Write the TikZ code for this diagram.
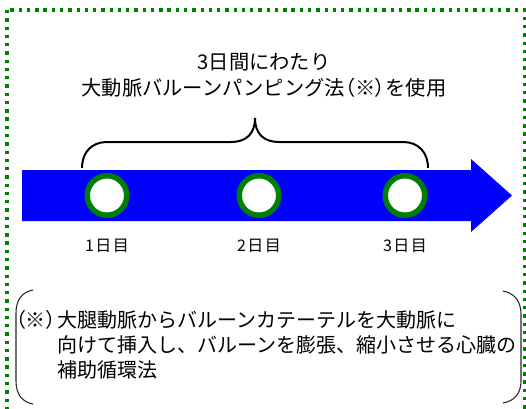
\documentclass[tikz,border=0pt]{standalone}
\usepackage{fontspec}
\setmainfont{Noto Sans CJK JP}
\newfontfamily\jpp[RawFeature=+palt]{Noto Sans CJK JP}
\usetikzlibrary{positioning}
\definecolor{dotgreen}{RGB}{0,128,0}
\definecolor{ringgreen}{RGB}{0,128,0}
\begin{document}
\begin{tikzpicture}[x=0.75pt, y=-0.75pt,
	dotframe/.style={draw=dotgreen, line width=2.5pt, dash pattern=on 2.5pt off 3.7pt},
	daymark/.style={circle, draw=ringgreen, line width=4.1pt, fill=white, minimum size=29.6pt, inner sep=0pt},
	daylabel/.style={font=\fontsize{12}{14}\selectfont, inner sep=0pt},
	heading/.style={align=center, font=\fontsize{15.2}{19.5}\selectfont, inner sep=0pt},
	notetext/.style={align=left, font=\fontsize{15}{18.75}\selectfont, inner sep=0pt},
	bracepath/.style={line width=1.5pt},
	bracket/.style={line width=0.8pt, draw=black!85}]
	\useasboundingbox (0,0) rectangle (526,408);
	\clip (0,0) rectangle (526,408);
	\draw[dotframe] (7,10) rectangle (524.5,430);
	\fill[blue] (22,170) -- (471,170) -- (471,159) -- (512,195.5) -- (471,232) -- (471,221) -- (22,221) -- cycle;
	\foreach \i/\x in {1/107, 2/259, 3/405}{
		\node[daymark] (d\i) at (\x,195.5) {};
		\node[daylabel] (l\i) at (\x,246) {\i\kern1pt 日\kern1pt 目};
	}
	\path (82,168) coordinate (BL) (428,168) coordinate (BR) (255,118) coordinate (BT);
	\draw[bracepath] (BL) .. controls (82,152) and (92,142) .. (107,142) -- (231,142) .. controls (246,142) and (255,134) .. (BT) .. controls (255,134) and (264,142) .. (279,142) -- (403,142) .. controls (418,142) and (428,152) .. (BR);
	\node[heading] (head) at (264,75) {3日間にわたり\\大動脈バルーンパンピング法{\jpp （※）}を使用};
	\draw[bracket] (33,290) .. controls (22,292) and (16,300) .. (16,313) -- (16,381) .. controls (16,394) and (22,402) .. (33,404);
	\draw[bracket] (503,291) .. controls (514,293) and (521,301) .. (521,314) -- (521,381) .. controls (521,394) and (514,401) .. (503,403);
	\node[notetext, anchor=west] (note) at (57,345) {\leavevmode\llap{\jpp （※）\kern1pt}大腿動脈からバルーンカテーテルを大動脈に\\向けて挿入し、バルーンを膨張、縮小させる心臓の\\補助循環法};
\end{tikzpicture}
\end{document}
